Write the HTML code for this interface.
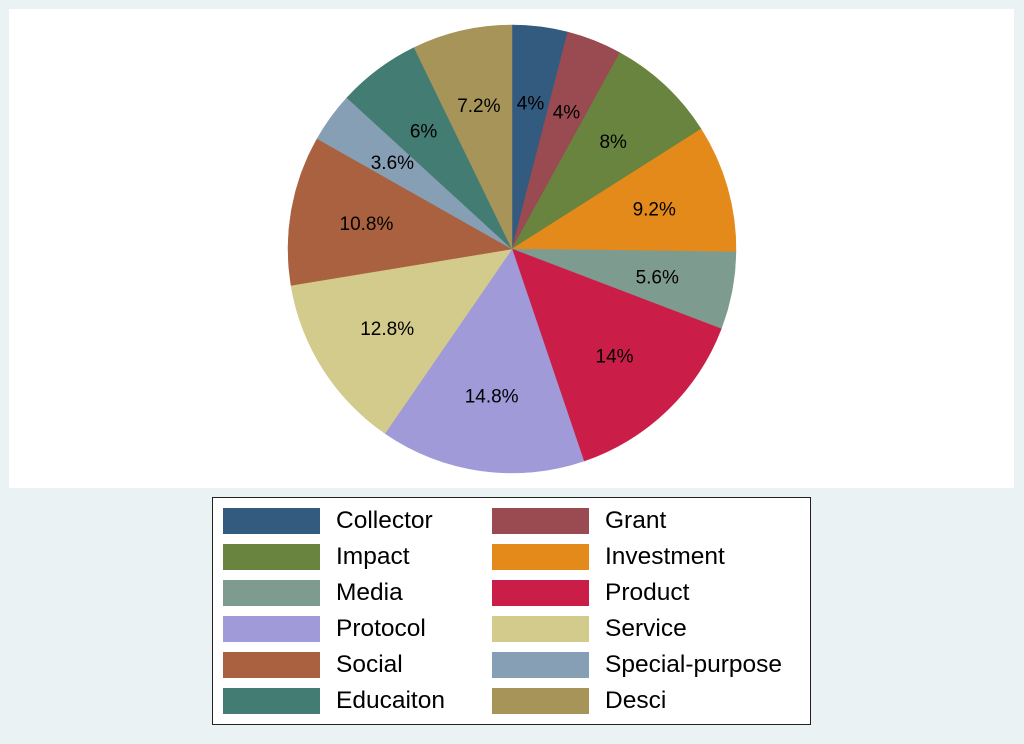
<!DOCTYPE html>
<html><head><meta charset="utf-8"><style>
body{margin:0;width:1024px;height:744px;background:#eaf2f3;position:relative;overflow:hidden;font-family:"Liberation Sans",Arial,sans-serif}
#plot{position:absolute;left:9px;top:9px;width:1005px;height:479px;background:#fff}
#leg{position:absolute;left:212px;top:497px;width:597px;height:226px;border:1px solid #222;background:#fff}
.it{position:absolute;height:26px}
.sw{position:absolute;left:0;top:0;width:97px;height:26px}
.tx{position:absolute;left:113px;top:-2px;font-size:24.5px;color:#000;white-space:nowrap;line-height:30px}
</style></head><body>
<div id="plot"></div>
<svg id="pie" width="1024" height="744" style="position:absolute;left:0;top:0"></svg>
<div id="leg"></div>
<script>
var d=[["Collector",4,"#335a7f"],["Grant",4,"#9a4a51"],["Impact",8,"#68843f"],["Investment",9.2,"#e48a1b"],["Media",5.6,"#7e9b8f"],["Product",14,"#ca1e48"],["Protocol",14.8,"#a09ad8"],["Service",12.8,"#d2cb8b"],["Social",10.8,"#a9613f"],["Special-purpose",3.6,"#879fb5"],["Educaiton",6,"#437c73"],["Desci",7.2,"#a69458"]];
var cx=512,cy=249,r=224,a=0,s="";
function pt(t,rr){return [cx+rr*Math.sin(t*2*Math.PI/100),cy-rr*Math.cos(t*2*Math.PI/100)];}
d.forEach(function(e){var p0=pt(a,r),p1=pt(a+e[1],r);var m=pt(a+e[1]/2,r*0.66);
s+='<path d="M'+cx+','+cy+'L'+p0[0]+','+p0[1]+'A'+r+','+r+' 0 0 1 '+p1[0]+','+p1[1]+'Z" fill="'+e[2]+'" stroke="'+e[2]+'" stroke-width="0.5"/>';
s+='<text x="'+m[0]+'" y="'+(m[1]+7)+'" text-anchor="middle" font-size="19" font-family="Liberation Sans,Arial,sans-serif">'+e[1]+'%</text>';
a+=e[1];});
document.getElementById('pie').innerHTML=s;
var L="";d.forEach(function(e,i){var c=i%2,rw=Math.floor(i/2);
L+='<div class="it" style="left:'+(10+c*269)+'px;top:'+(10+rw*36)+'px"><div class="sw" style="background:'+e[2]+'"></div><div class="tx">'+e[0]+'</div></div>';});
document.getElementById('leg').innerHTML=L;
</script>
</body></html>
